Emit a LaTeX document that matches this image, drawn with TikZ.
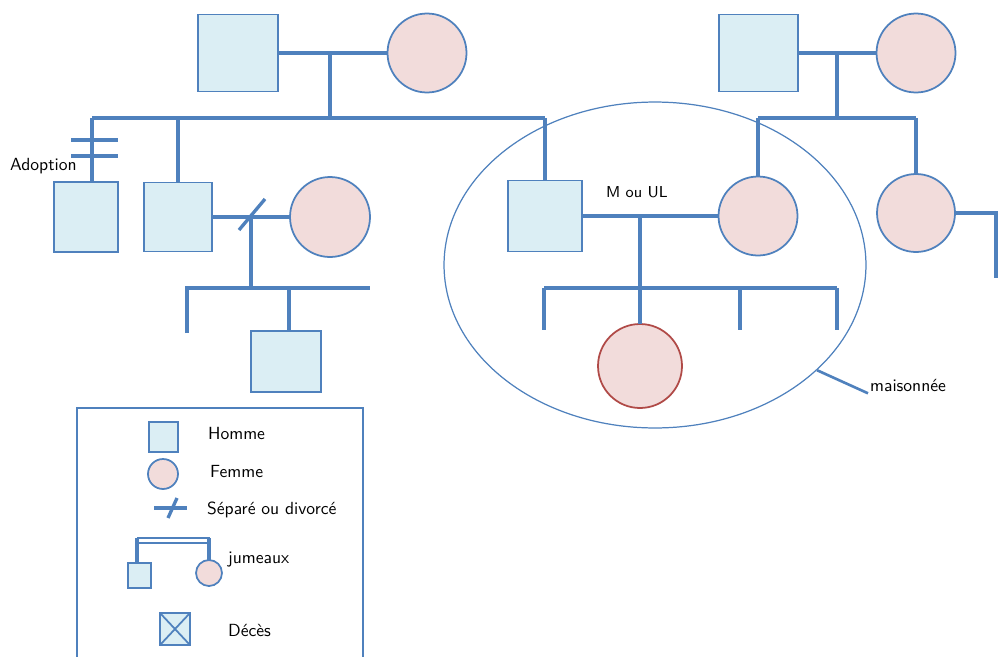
\documentclass[tikz,border=0pt]{standalone}
\usetikzlibrary{shapes.geometric}
\definecolor{lien}{HTML}{4F81BD}
\definecolor{bleuclair}{HTML}{DBEEF4}
\definecolor{roseclair}{HTML}{F2DCDB}
\definecolor{rougefonce}{HTML}{B04A47}
\def\yGen{118}
\def\yFrat{288}
\def\yBas{330}
\begin{document}
\begin{tikzpicture}[x=0.02cm, y=-0.02cm,
    link/.style={draw=lien, line width=1.9pt},
    homme/.style={draw=lien, fill=bleuclair, line width=1pt, inner sep=0pt, outer sep=0pt},
    femme/.style={circle, draw=lien, fill=roseclair, line width=1pt, inner sep=0pt, outer sep=0pt},
    texte/.style={anchor=west, inner sep=1pt, font=\sffamily\fontsize{10}{12}\selectfont}]
      \useasboundingbox (0,0) rectangle (1000,656);
      \node[ellipse, draw=lien, line width=0.7pt, minimum width=8.44cm, minimum height=6.52cm] (menage) at (655,265) {};
      \node[homme, minimum width=1.6cm, minimum height=1.54cm] (gpa) at (238,53) {};
      \node[femme, minimum size=1.58cm] (gma) at (427,53) {};
      \node[homme, minimum width=1.58cm, minimum height=1.54cm] (gpb) at (758.5,53) {};
      \node[femme, minimum size=1.58cm] (gmb) at (916,53) {};
      \node[homme, minimum width=1.28cm, minimum height=1.4cm] (adopte) at (86,217) {};
      \node[homme, minimum width=1.36cm, minimum height=1.38cm] (fils) at (178,217) {};
      \node[femme, minimum size=1.6cm] (epouse) at (330,217) {};
      \node[homme, minimum width=1.4cm, minimum height=1.22cm] (petitfils) at (286,361.5) {};
      \node[homme, minimum width=1.48cm, minimum height=1.42cm] (ego) at (545,216) {};
      \node[femme, minimum size=1.58cm] (conjointe) at (758,216) {};
      \node[femme, minimum size=1.56cm] (soeur) at (916,213) {};
      \node[femme, draw=rougefonce, minimum size=1.68cm] (fille) at (640,366) {};

      \node[texte] (adoption) at (8,166) {Adoption};
      \node[texte, font=\sffamily\fontsize{9}{11}\selectfont] (union) at (604,192) {M ou UL};
      \node[texte] (maison) at (868,385) {maisonnée};
      \draw[lien, line width=1.5pt] (menage.-33) -- (maison.south west);

      \coordinate (ua) at (330,53);
      \coordinate (ub) at (837,53);
      \coordinate (sA) at (92,\yGen);
      \coordinate (sB) at (178,\yGen);
      \coordinate (sE) at (545,\yGen);
      \coordinate (sC) at (758,\yGen);
      \coordinate (sS) at (916,\yGen);
      \coordinate (uf) at (251,217);
      \coordinate (ue) at (640,216);
      \coordinate (bord) at (996,213);

      \draw[link] (gpa) -- (gma);
      \draw[link] (gpb) -- (gmb);
      \draw[link] (ua) -- (ua |- sA);
      \draw[link] (ub) -- (ub |- sC);
      \draw[link] (sA) -- (sE);
      \draw[link] (sC) -- (sS);
      \draw[link] (sA) -- (sA |- adopte.north);
      \draw[link] (sB) -- (fils.north);
      \draw[link] (sE) -- (ego.north);
      \draw[link] (sC) -- (conjointe.north);
      \draw[link] (sS) -- (soeur.north);
      \draw[link] (71,140) -- (118,140);
      \draw[link] (71,156) -- (118,156);

      \draw[link] (fils) -- (epouse);
      \draw[link] (239,230) -- (265,199);
      \draw[link] (uf) -- (251,\yFrat);
      \draw[link] (187,333) -- (187,\yFrat) -- (370,\yFrat);
      \draw[link] (289,\yFrat) -- (petitfils.north -| 289,0);

      \draw[link] (ego) -- (conjointe);
      \draw[link] (ue) -- (640,\yFrat);
      \draw[link] (544,\yFrat) -- (837,\yFrat);
      \foreach \x in {544,740,837} {
          \draw[link] (\x,\yFrat) -- (\x,\yBas);
      }
      \draw[link] (640,\yFrat) -- (fille.north);
      \draw[link] (soeur) -- (bord) -- (996,278);

      \draw[lien, line width=1pt] (77,662) -- (77,408) -- (363,408) -- (363,662);
      \node[homme, minimum width=0.58cm, minimum height=0.6cm] (lgH) at (163.5,437) {};
      \node[texte] at (206,433) {Homme};
      \node[femme, minimum size=0.6cm] (lgF) at (163,474) {};
      \node[texte] at (208,472) {Femme};
      \draw[link] (154,508) -- (187,508);
      \draw[link] (168,518) -- (177,498);
      \node[texte] at (205,510) {Séparé ou divorcé};
      \node[homme, minimum width=0.46cm, minimum height=0.5cm] (lgJH) at (139.5,575.5) {};
      \node[femme, minimum size=0.52cm] (lgJF) at (209,573) {};
      \draw[link, line width=1.3pt] (137,538) -- (210,538);
      \draw[link, line width=1.3pt] (137,543) -- (210,543);
      \draw[link] (137,538) -- (lgJH.north -| 137,0);
      \draw[link] (209,538) -- (lgJF.north);
      \node[texte] at (226,560) {jumeaux};
      \node[homme, minimum width=0.6cm, minimum height=0.64cm] (lgD) at (175,629) {};
      \draw[lien, line width=1pt] (lgD.north west) -- (lgD.south east) (lgD.north east) -- (lgD.south west);
      \node[texte] at (226,630) {Décès};
\end{tikzpicture}
\end{document}
